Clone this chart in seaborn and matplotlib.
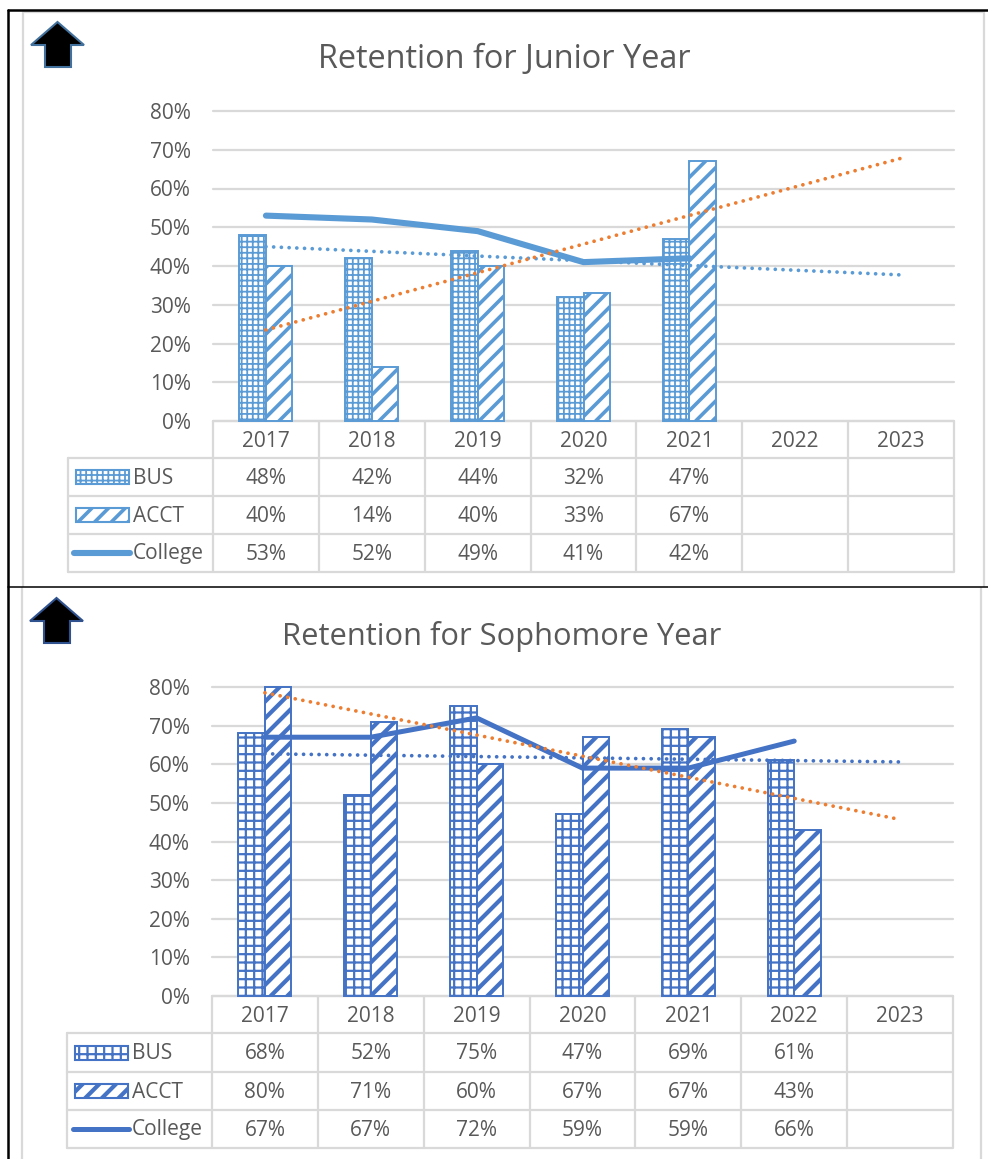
import numpy as np
import pandas as pd
import matplotlib
matplotlib.use("Agg")
import matplotlib.pyplot as plt
from matplotlib.colors import to_rgba
from matplotlib.patches import Rectangle, Polygon
from matplotlib.ticker import PercentFormatter
import seaborn as sns

sns.set_theme(style="white")
plt.rcParams["font.family"] = ["Open Sans", "DejaVu Sans"]

years = ["2017", "2018", "2019", "2020", "2021", "2022", "2023"]

junior_bus = [48, 42, 44, 32, 47, None, None]
junior_acct = [40, 14, 40, 33, 67, None, None]
junior_college = [53, 52, 49, 41, 42, None, None]
junior_trend_college = [45, 37.7]
junior_trend_acct = [23.5, 67.8]

soph_bus = [68, 52, 75, 47, 69, 61, None]
soph_acct = [80, 71, 60, 67, 67, 43, None]
soph_college = [67, 67, 72, 59, 59, 66, None]
soph_trend_college = [62.7, 60.6]
soph_trend_acct = [78.5, 45.7]

W, H = 988, 1159
GRID = "#D9D9D9"
TEXT = "#595959"
ORANGE = "#ED7D31"
DPI = 100
FS = 15

fig = plt.figure(figsize=(W / DPI, H / DPI), dpi=DPI, facecolor="white")
over = fig.add_axes([0, 0, 1, 1], zorder=0)
over.set_xlim(0, W)
over.set_ylim(H, 0)
over.axis("off")


def panel(title, title_xy, title_fs, bus, acct, college, t_college, t_acct, color, edge,
          left, top, bottom, row_ys, tab_left, key_left, arrow_xy, lw,
          bus_hatch, bus_hl, acct_hl, xpad, text_dy):
    right = left + 741
    ax = fig.add_axes([left / W, 1 - bottom / H, (right - left) / W, (bottom - top) / H], zorder=2)
    ax.patch.set_alpha(0)
    df = pd.DataFrame({
        "year": years * 2,
        "series": ["BUS"] * 7 + ["ACCT"] * 7,
        "value": pd.array(list(bus) + list(acct), dtype="Float64").astype(float),
    })
    sns.barplot(data=df, x="year", y="value", hue="series", order=years,
                hue_order=["BUS", "ACCT"], palette=["white", "white"],
                width=0.5, gap=0, legend=False, ax=ax, zorder=3)
    for cont, hatch, hl in zip(ax.containers, [bus_hatch, "//"], [bus_hl, acct_hl]):
        for b in cont:
            b.set_edgecolor(color)
            b.set_facecolor("white")
            b.set_linewidth(1.4)
            b.set_hatch(hatch)
            b._hatch_color = to_rgba(color)
            b._hatch_linewidth = hl
            b.set_clip_on(False)
    pos = np.arange(len(years))
    cdf = pd.DataFrame({"pos": pos, "v": pd.array(college, dtype="Float64").astype(float)}).dropna()
    sns.lineplot(data=cdf, x="pos", y="v", color=color, lw=lw, ax=ax, zorder=6,
                 errorbar=None, solid_capstyle="round", solid_joinstyle="round")
    for vals, c in ((t_college, color), (t_acct, ORANGE)):
        tdf = pd.DataFrame({"pos": [pos[0], pos[-1]], "v": vals})
        sns.lineplot(data=tdf, x="pos", y="v", color=c, lw=2.7, ax=ax, zorder=7, errorbar=None)
        ln = ax.lines[-1]
        ln.set_linestyle((0, (0.01, 2.05)))
        ln.set_dash_capstyle("round")
    ax.set_xlim(-0.5, 6.5)
    ax.set_ylim(0, 80)
    ax.set_yticks(np.arange(0, 81, 10))
    ax.yaxis.set_major_formatter(PercentFormatter(100, decimals=0))
    ax.grid(axis="y", color=GRID, lw=1.6, zorder=0, clip_on=False)
    ax.set_axisbelow(True)
    ax.set_xlabel("")
    ax.set_ylabel("")
    for s in ax.spines.values():
        s.set_visible(False)
    ax.tick_params(axis="y", length=0, pad=16, labelsize=FS, labelcolor=TEXT)
    ax.tick_params(axis="x", length=0, pad=xpad, labelsize=FS, labelcolor=TEXT)
    fig.text(title_xy[0] / W, 1 - title_xy[1] / H, title, fontsize=title_fs, color=TEXT,
             ha="center", va="center")

    # table below the plot
    cw = (right - left) / 7
    for k in range(8):
        over.plot([left + k * cw] * 2, [bottom, row_ys[-1]], color=GRID, lw=1.6, solid_capstyle="butt")
    over.plot([left, right], [bottom, bottom], color=GRID, lw=1.6)
    for y in row_ys:
        over.plot([tab_left, right], [y, y], color=GRID, lw=1.6)
    over.plot([tab_left, tab_left], [row_ys[0], row_ys[-1]], color=GRID, lw=1.6)
    names = ["BUS", "ACCT", "College"]
    for r, (name, vals) in enumerate(zip(names, [bus, acct, college])):
        yc = (row_ys[r] + row_ys[r + 1]) / 2 + text_dy
        over.text(key_left + 57, yc, name, color=TEXT, fontsize=FS, ha="left", va="center")
        for k, v in enumerate(vals):
            if v is not None:
                over.text(left + (k + 0.5) * cw, yc, f"{v}%", color=TEXT, fontsize=FS,
                          ha="center", va="center")
    for r, hatch, hl in ((0, bus_hatch, bus_hl), (1, "//", acct_hl)):
        yc = (row_ys[r] + row_ys[r + 1]) / 2
        key = Rectangle((key_left, yc - 7), 53, 14, facecolor="white", edgecolor=color, lw=1.5, hatch=hatch)
        key._hatch_color = to_rgba(color)
        key._hatch_linewidth = hl
        over.add_patch(key)
    yc = (row_ys[2] + row_ys[3]) / 2
    over.plot([key_left - 2, key_left + 54], [yc, yc], color=color, lw=lw, solid_capstyle="round")

    ax_, ay = arrow_xy
    over.add_patch(Polygon([(ax_ + 26.5, ay), (ax_ + 53, ay + 23), (ax_ + 40, ay + 23), (ax_ + 40, ay + 45),
                            (ax_ + 14, ay + 45), (ax_ + 14, ay + 23), (ax_, ay + 23)],
                           closed=True, facecolor="black", edgecolor=edge, lw=1.5))
    return ax


panel("Retention for Junior Year", (504, 60), 23.4, junior_bus, junior_acct, junior_college,
      junior_trend_college, junior_trend_acct, "#5B9BD5", "#41719C",
      213, 111, 421, [458, 496, 534, 572], 68, 76, (31, 22), 4.4,
      "+++", 1.3, 2.6, 7, 1)
panel("Retention for Sophomore Year", (502, 636), 22.2, soph_bus, soph_acct, soph_college,
      soph_trend_college, soph_trend_acct, "#4472C4", "#2F528F",
      212, 687, 996, [1033, 1072, 1110, 1148], 67, 75, (30, 598), 3.6,
      "++", 1.6, 3.0, 7, 1)

# chart borders
over.plot([23, 23, 984, 984], [586, 12, 12, 586], color=GRID, lw=1.6)
over.plot([22, 22], [588, H], color=GRID, lw=1.6)
over.plot([981, 981], [588, H], color=GRID, lw=1.6)
# page frame
over.plot([8, 8], [10, H], color="black", lw=1.8)
over.plot([8, W], [10, 10], color="black", lw=1.8)
over.plot([8, W], [587, 587], color="black", lw=1.1)

fig.savefig("out.png", dpi=DPI, facecolor="white")
